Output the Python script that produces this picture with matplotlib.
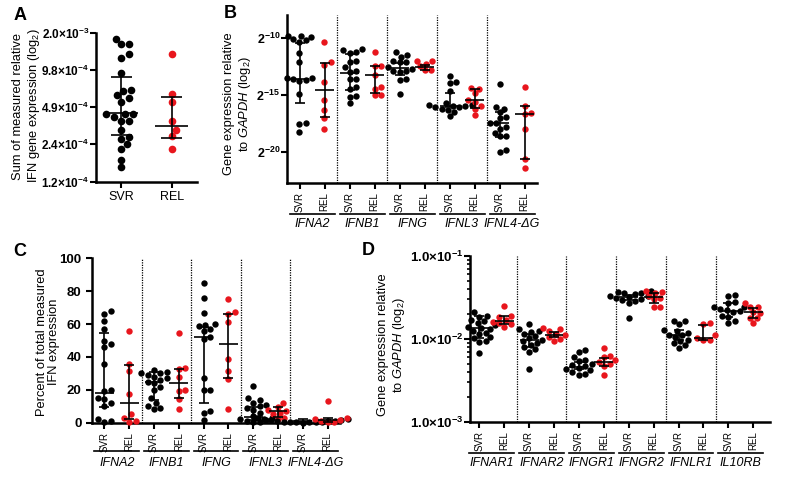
import numpy as np
import matplotlib
matplotlib.use('Agg')
import matplotlib.pyplot as plt
from matplotlib.transforms import blended_transform_factory
from matplotlib.ticker import NullLocator, LogLocator, NullFormatter

plt.rcParams['font.family'] = ['Liberation Sans', 'DejaVu Sans']
plt.rcParams['mathtext.fontset'] = 'custom'
plt.rcParams['mathtext.rm'] = 'Liberation Sans'
plt.rcParams['mathtext.it'] = 'Liberation Sans:italic'
plt.rcParams['mathtext.bf'] = 'Liberation Sans:bold'

# ---------------- data ----------------
# A: sum of measured relative IFN expression
a_groups = ['SVR', 'REL']
a_svr = [1.74e-3, 1.58e-3, 1.58e-3, 1.31e-3, 1.23e-3, 9.3e-4, 6.8e-4, 6.6e-4,
         6.1e-4, 5.8e-4, 5.4e-4, 4.3e-4, 4.3e-4, 4.3e-4, 4.1e-4, 3.8e-4,
         3.8e-4, 3.2e-4, 2.8e-4, 2.7e-4, 2.44e-4, 2.25e-4, 1.83e-4, 1.6e-4]
a_rel = [1.31e-3, 6.2e-4, 5.4e-4, 3.8e-4, 3.2e-4, 2.85e-4, 2.25e-4]
a_med = [4.35e-4, 3.43e-4]
a_lo = [2.9e-4, 2.75e-4]
a_hi = [8.6e-4, 5.9e-4]

# B: log2 expression relative to GAPDH
ifn_genes = ['IFNA2', 'IFNB1', 'IFNG', 'IFNL3', 'IFNL4-\u0394G']
b_svr = [
    [-9.8, -9.85, -9.9, -10.1, -10.2, -10.35, -11.3, -12.1, -13.5, -13.55, -13.6,
     -13.7, -13.8, -14.9, -17.5, -17.55, -18.25],
    [-11.0, -11.05, -11.2, -11.3, -12.0, -12.1, -12.6, -12.95, -13.0, -13.6,
     -13.65, -14.35, -14.45, -15.1, -15.2, -15.75],
    [-11.25, -11.55, -11.65, -12.0, -12.1, -12.15, -12.6, -12.7, -12.9, -12.95,
     -13.0, -13.6, -13.7, -14.95],
    [-13.35, -13.85, -14.0, -14.65, -15.75, -15.85, -15.9, -15.95, -16.0, -16.05,
     -16.1, -16.2, -16.3, -16.5, -16.85],
    [-14.05, -16.05, -16.2, -16.5, -16.9, -17.05, -17.45, -17.5, -17.85, -17.95,
     -18.3, -18.6, -18.65, -19.85, -20.0],
]
b_rel = [
    [-10.4, -12.15, -12.4, -13.9, -15.45, -16.3, -17.05, -18.0],
    [-11.2, -12.45, -12.5, -13.25, -14.35, -14.45, -15.0, -15.05],
    [-12.0, -12.05, -12.3, -12.45, -12.8, -12.85],
    [-14.4, -14.45, -14.85, -15.45, -15.6, -15.95, -16.2, -16.75],
    [-14.35, -15.95, -16.55, -16.7, -17.95, -20.6, -21.45],
]
b_med = [[-13.6, -14.6], [-13.05, -13.25], [-12.65, -12.6], [-15.95, -15.45], [-17.5, -16.7]]
b_lo = [[-15.75, -16.9], [-14.6, -14.8], [-13.25, -12.85], [-16.1, -16.15], [-18.7, -20.65]]
b_hi = [[-10.45, -12.2], [-11.45, -12.45], [-12.2, -12.35], [-14.85, -14.5], [-16.5, -15.95]]

# C: percent of total measured IFN expression
c_svr = [
    [68, 66, 62, 57, 50, 48, 46, 36, 20, 19, 15, 14.5, 12, 10, 2.5, 1, 0.5],
    [32, 31, 30.5, 30, 29, 28, 27, 26, 25, 24, 22, 20, 15, 12, 10, 9, 8.5],
    [85, 76, 67, 60, 59.5, 59, 57, 56, 52, 51, 27, 20, 20, 7, 6, 1.5],
    [22.5, 15, 14, 12, 11, 10, 9, 8, 6, 4, 3, 2, 1.5, 1, 0.5, 0.3],
    [3, 2.8, 2.5, 2, 1.8, 1.5, 1.2, 1, 0.8, 0.6, 0.5, 0.4, 0.3, 0.2, 0.2, 0.1],
]
c_rel = [
    [56, 36, 31.5, 17.5, 5, 3, 1, 0.5],
    [54.5, 33, 32.5, 28, 20, 19.5, 14.5, 8.5],
    [75.5, 67.5, 66, 61, 39, 31.5, 26.5, 8.5],
    [12, 9.5, 8, 7, 6, 5, 3, 2],
    [13.5, 3, 2.5, 1.5, 1, 0.5, 0.3],
]
c_med = [[18, 11.8], [25, 24], [52, 47.7], [3.7, 7.2], [0.8, 1.7]]
c_lo = [[9.7, 2.2], [13.8, 14.8], [11.8, 27.4], [1.6, 3.6], [0.3, 0.5]]
c_hi = [[54.8, 34.8], [31, 32.7], [58, 66], [9.7, 9.5], [2, 3]]

# D: receptor expression relative to GAPDH
rec_genes = ['IFNAR1', 'IFNAR2', 'IFNGR1', 'IFNGR2', 'IFNLR1', 'IL10RB']
d_svr = [
    [0.021, 0.019, 0.0186, 0.017, 0.0165, 0.0155, 0.0145, 0.014, 0.0135, 0.013,
     0.0125, 0.0118, 0.0115, 0.0105, 0.0102, 0.0095, 0.0092, 0.0067],
    [0.0151, 0.013, 0.0125, 0.012, 0.0115, 0.0107, 0.0102, 0.0098, 0.0093,
     0.0089, 0.0085, 0.0079, 0.0076, 0.007, 0.0043],
    [0.0074, 0.007, 0.0061, 0.0056, 0.0054, 0.005, 0.0048, 0.0047, 0.0045,
     0.0043, 0.0042, 0.004, 0.0038, 0.0037],
    [0.038, 0.037, 0.036, 0.0355, 0.035, 0.033, 0.0325, 0.032, 0.031, 0.030,
     0.0295, 0.029, 0.027, 0.0178],
    [0.0165, 0.0163, 0.015, 0.0128, 0.0123, 0.0118, 0.0112, 0.011, 0.0105,
     0.0097, 0.0093, 0.0088, 0.0084, 0.0078],
    [0.034, 0.033, 0.028, 0.027, 0.0245, 0.024, 0.023, 0.022, 0.0215, 0.021,
     0.019, 0.0185, 0.0162, 0.0155],
]
d_rel = [
    [0.025, 0.019, 0.0185, 0.017, 0.016, 0.0155, 0.015, 0.014],
    [0.0135, 0.013, 0.0125, 0.0115, 0.011, 0.0105, 0.01, 0.0095],
    [0.0078, 0.0062, 0.006, 0.0055, 0.0053, 0.005, 0.0047, 0.0037],
    [0.038, 0.037, 0.0355, 0.033, 0.031, 0.030, 0.0245, 0.024],
    [0.0157, 0.015, 0.011, 0.0102, 0.0098, 0.0096],
    [0.027, 0.0245, 0.024, 0.021, 0.0205, 0.018, 0.0178, 0.0155],
]
d_med = [[0.0137, 0.0164], [0.0097, 0.0111], [0.0046, 0.0052], [0.0316, 0.0316],
         [0.0111, 0.0101], [0.0219, 0.0209]]
d_lo = [[0.0102, 0.015], [0.008, 0.0104], [0.0043, 0.0047], [0.0295, 0.027],
        [0.0097, 0.0097], [0.0185, 0.0177]]
d_hi = [[0.019, 0.019], [0.0114, 0.0122], [0.0052, 0.0059], [0.034, 0.036],
        [0.0128, 0.0147], [0.027, 0.0238]]

BLACK = '#000000'
RED = '#e8161d'
W, H = 786, 483

fig = plt.figure(figsize=(W / 100, H / 100), dpi=100)


def px_axes(left, top, right, bottom):
    ax = fig.add_axes([left / W, 1 - bottom / H, (right - left) / W, (bottom - top) / H])
    ax.patch.set_alpha(0)
    for s in ['top', 'right']:
        ax.spines[s].set_visible(False)
    for s in ['left', 'bottom']:
        ax.spines[s].set_linewidth(1.8)
    ax.tick_params(axis='both', which='major', direction='out', width=1.5, length=4)
    return ax


def swarm_x(ax, xc, vals, diam):
    # simple beeswarm in pixel space so dots do not overlap
    pts = ax.transData.transform(np.column_stack([np.full(len(vals), xc, float), vals]))
    x0, ys = pts[0, 0], pts[:, 1]
    steps = [0.0]
    for k in range(1, 30):
        steps += [k * 0.25 * diam, -k * 0.25 * diam]
    placed, xs = [], np.empty(len(vals))
    for i in np.argsort(ys):
        for dx in steps:
            if all((x0 + dx - px) ** 2 + (ys[i] - py) ** 2 >= (0.92 * diam) ** 2
                   for px, py in placed):
                break
        placed.append((x0 + dx, ys[i]))
        xs[i] = x0 + dx
    return ax.transData.inverted().transform(np.column_stack([xs, ys]))[:, 0]


def draw_group(ax, xc, vals, med, lo, hi, color, ms=4.6, medw=0.38, capw=0.2):
    diam = ms * 100 / 72
    xs = swarm_x(ax, xc, vals, diam)
    ax.plot(xs, vals, 'o', color=color, ms=ms, mec='none', clip_on=False, zorder=3)
    kw = dict(color='k', lw=1.2, zorder=4, solid_capstyle='butt')
    ax.plot([xc - medw, xc + medw], [med, med], **kw)
    ax.plot([xc, xc], [lo, hi], **kw)
    for v in (lo, hi):
        ax.plot([xc - capw, xc + capw], [v, v], **kw)


def gene_axis(ax, genes, line_px, text_px):
    n = len(genes)
    ax.set_xlim(-0.5, 2 * n - 0.5)
    ax.set_xticks(range(2 * n))
    ax.set_xticklabels(['SVR', 'REL'] * n, rotation=90, fontsize=7)
    ax.tick_params(axis='x', pad=2.5)
    for k in range(n - 1):
        ax.axvline(2 * k + 1.5, color='k', lw=0.9, ls=(0, (1, 1)), zorder=1)
    h = ax.get_position().height * H
    tr = blended_transform_factory(ax.transData, ax.transAxes)
    for g, name in enumerate(genes):
        ax.plot([2 * g - 0.4, 2 * g + 1.4], [-line_px / h] * 2, transform=tr,
                color='k', lw=1.2, clip_on=False)
        ax.text(2 * g + 0.5, -text_px / h, name, transform=tr, ha='center',
                va='center', style='italic', fontsize=9)


def bold_yticks(ax, size):
    for lab in ax.get_yticklabels():
        lab.set_fontweight('bold')
        lab.set_fontsize(size)


def ylabel(x, y, text):
    fig.text(x / W, 1 - y / H, text, rotation=90, ha='center', va='center',
             fontsize=9.3, linespacing=1.1, multialignment='center')


def panel_letter(x, y, s):
    fig.text(x / W, 1 - y / H, s, fontsize=13, fontweight='bold', ha='center', va='center')


# ---------------- panel A ----------------
axA = px_axes(96, 33, 197, 181.5)
axA.set_yscale('log', base=2)
axA.set_ylim(2.0 ** -13, 2.0 ** -9)
axA.set_xlim(-0.5, 1.5)
axA.yaxis.set_minor_locator(NullLocator())
a_ticks = [2.0 ** -13, 2.0 ** -12, 2.0 ** -11, 2.0 ** -10, 2.0 ** -9]
axA.set_yticks(a_ticks)
axA.set_yticklabels([r'$\mathbf{1.2{\times}10^{-4}}$', r'$\mathbf{2.4{\times}10^{-4}}$',
                     r'$\mathbf{4.9{\times}10^{-4}}$', r'$\mathbf{9.8{\times}10^{-4}}$',
                     r'$\mathbf{2.0{\times}10^{-3}}$'], fontsize=8.5)
axA.tick_params(axis='y', pad=1)
axA.set_xticks([0, 1])
axA.set_xticklabels(a_groups, fontsize=9)
axA.tick_params(axis='x', pad=3)
draw_group(axA, 0, a_svr, a_med[0], a_lo[0], a_hi[0], BLACK, ms=5.5, medw=0.33, capw=0.21)
draw_group(axA, 1, a_rel, a_med[1], a_lo[1], a_hi[1], RED, ms=5.5, medw=0.33, capw=0.21)
ylabel(27, 106, 'Sum of measured relative\nIFN gene expression (log$_2$)')
panel_letter(20, 16, 'A')

# ---------------- panel B ----------------
axB = px_axes(287, 15, 537, 182.7)
axB.set_yscale('log', base=2)
axB.set_ylim(2.0 ** -22.7, 2.0 ** -8)
axB.yaxis.set_minor_locator(NullLocator())
axB.set_yticks([2.0 ** -20, 2.0 ** -15, 2.0 ** -10])
axB.set_yticklabels([r'$\mathbf{2^{-20}}$', r'$\mathbf{2^{-15}}$', r'$\mathbf{2^{-10}}$'],
                    fontsize=9)
axB.tick_params(axis='y', pad=1)
gene_axis(axB, ifn_genes, 31, 41)
for g in range(len(ifn_genes)):
    draw_group(axB, 2 * g, 2.0 ** np.array(b_svr[g]), 2.0 ** b_med[g][0],
               2.0 ** b_lo[g][0], 2.0 ** b_hi[g][0], BLACK)
    draw_group(axB, 2 * g + 1, 2.0 ** np.array(b_rel[g]), 2.0 ** b_med[g][1],
               2.0 ** b_lo[g][1], 2.0 ** b_hi[g][1], RED)
ylabel(238, 104, 'Gene expression relative\nto $\\it{GAPDH}$ (log$_2$)')
panel_letter(230, 14, 'B')

# ---------------- panel C ----------------
axC = px_axes(92, 258.3, 340, 422.7)
axC.set_ylim(0, 100)
axC.set_yticks(range(0, 101, 20))
bold_yticks(axC, 9.5)
gene_axis(axC, ifn_genes, 28, 40)
for g in range(len(ifn_genes)):
    draw_group(axC, 2 * g, c_svr[g], c_med[g][0], c_lo[g][0], c_hi[g][0], BLACK)
    draw_group(axC, 2 * g + 1, c_rel[g], c_med[g][1], c_lo[g][1], c_hi[g][1], RED)
ylabel(48, 342, 'Percent of total measured\nIFN expression')
panel_letter(20, 252, 'C')

# ---------------- panel D ----------------
axD = px_axes(470, 256, 770, 421.7)
axD.set_yscale('log')
axD.set_ylim(1e-3, 1e-1)
axD.set_yticks([1e-3, 1e-2, 1e-1])
axD.set_yticklabels([r'$\mathbf{1.0{\times}10^{-3}}$', r'$\mathbf{1.0{\times}10^{-2}}$',
                     r'$\mathbf{1.0{\times}10^{-1}}$'], fontsize=9.5)
axD.yaxis.set_minor_locator(LogLocator(base=10, subs=np.arange(2, 10)))
axD.yaxis.set_minor_formatter(NullFormatter())
axD.tick_params(axis='y', which='minor', direction='out', width=1.2, length=2.5)
axD.tick_params(axis='y', pad=1)
gene_axis(axD, rec_genes, 31, 41)
axD.set_xlim(-0.37, 11.67)
for g in range(len(rec_genes)):
    draw_group(axD, 2 * g, d_svr[g], d_med[g][0], d_lo[g][0], d_hi[g][0], BLACK)
    draw_group(axD, 2 * g + 1, d_rel[g], d_med[g][1], d_lo[g][1], d_hi[g][1], RED)
ylabel(392, 345, 'Gene expression relative\nto $\\it{GAPDH}$ (log$_2$)')
panel_letter(368, 251, 'D')

fig.savefig('out.png', dpi=100)
